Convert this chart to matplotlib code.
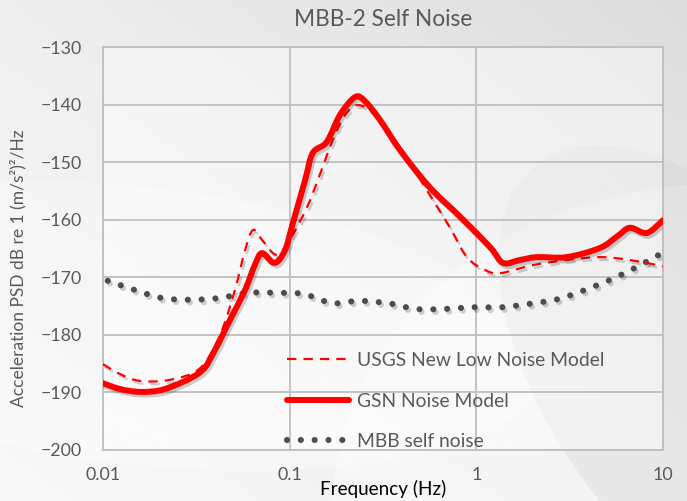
"""MBB-2 self noise vs. Peterson noise models."""

import matplotlib
matplotlib.use("Agg")
from matplotlib import pyplot as plt
from matplotlib import patheffects as pe
from matplotlib.lines import Line2D
from matplotlib.patches import Ellipse, PathPatch
from matplotlib.path import Path
import numpy as np

# --- data ------------------------------------------------------------------
NLNM_FREQ = [0.01, 0.0123, 0.0158, 0.0229, 0.0331, 0.0424, 0.0509, 0.0577,
             0.0636, 0.0711, 0.085, 0.1, 0.124, 0.145, 0.17, 0.198, 0.232,
             0.286, 0.39, 0.586, 0.723, 0.89, 1.11, 1.34, 2.0, 3.05, 4.6,
             6.65, 10.0]
NLNM_DB = [-185.1, -186.8, -188.0, -187.8, -185.8, -180.0, -172.2, -165.3,
           -161.8, -163.5, -166.1, -163.5, -157.8, -152.2, -146.2, -141.8,
           -140.1, -141.8, -147.5, -156.6, -161.4, -166.5, -168.7, -169.3,
           -167.9, -167.0, -166.5, -167.0, -168.1]

GSN_FREQ = [0.01, 0.0123, 0.0158, 0.0215, 0.0331, 0.0398, 0.0479, 0.0577,
            0.065, 0.0711, 0.083, 0.0944, 0.104, 0.121, 0.133, 0.158, 0.186,
            0.224, 0.253, 0.305, 0.39, 0.56, 0.82, 1.18, 1.39, 1.71, 2.11,
            3.05, 4.6, 5.73, 6.65, 8.2, 10.0]
GSN_DB = [-188.4, -189.4, -189.9, -189.4, -186.5, -182.6, -177.4, -172.2,
          -167.9, -165.8, -167.5, -165.3, -160.6, -153.1, -148.4, -146.5,
          -141.8, -138.7, -139.4, -142.7, -147.9, -154.3, -159.5, -164.7,
          -167.5, -167.0, -166.5, -166.5, -164.9, -162.8, -161.4, -162.3,
          -160.1]

MBB_FREQ = [0.0106, 0.0148, 0.0207, 0.0296, 0.0418, 0.0598, 0.0845, 0.119,
            0.169, 0.232, 0.336, 0.475, 0.67, 0.96, 1.37, 1.94, 2.73, 3.82,
            5.33, 7.24, 9.87]
MBB_DB = [-170.6, -172.2, -173.6, -173.9, -173.6, -172.7, -172.7, -172.9,
          -174.5, -174.1, -174.5, -175.5, -175.5, -175.2, -175.2, -174.6,
          -173.8, -172.2, -170.3, -168.2, -165.8]

X_TICKS = [0.01, 0.1, 1, 10]
X_TICK_LABELS = ["0.01", "0.1", "1", "10"]
Y_TICKS = list(range(-200, -129, 10))

TEXT_GRAY = "#595959"
GRID_GRAY = "#bfbfbf"
RED = "#ff0000"
DOT_GRAY = "#4d4d4d"


def smooth_path(freq, db):
    """Excel-style smoothed line: Catmull-Rom through the points, drawn as Beziers in log-x space."""
    x = np.log10(freq)
    y = np.asarray(db, dtype=float)
    n = len(x)
    verts = [(x[0], y[0])]
    codes = [Path.MOVETO]
    for i in range(n - 1):
        a = max(i - 1, 0)
        d = min(i + 2, n - 1)
        c1 = (x[i] + (x[i + 1] - x[a]) / 6, y[i] + (y[i + 1] - y[a]) / 6)
        c2 = (x[i + 1] - (x[d] - x[i]) / 6, y[i + 1] - (y[d] - y[i]) / 6)
        verts += [c1, c2, (x[i + 1], y[i + 1])]
        codes += [Path.CURVE4] * 3
    verts = np.array(verts)
    verts[:, 0] = 10 ** verts[:, 0]
    return Path(verts, codes)


plt.rcParams.update({
    "font.family": ["Lato", "DejaVu Sans"],
    "text.color": TEXT_GRAY,
    "xtick.color": TEXT_GRAY,
    "ytick.color": TEXT_GRAY,
})

fig = plt.figure(figsize=(6.87, 5.01), dpi=100)

# background gradient with soft swooshes, roughly like the Excel style
bg = fig.add_axes([0, 0, 1, 1])
bg.set_xlim(0, 1)
bg.set_ylim(0, 1)
gx, gy = np.meshgrid(np.linspace(0, 1, 200), np.linspace(0, 1, 200))
shade = 0.97 - 0.11 * np.clip((gx + (1 - gy)) / 2, 0, 1) ** 1.5
bg.imshow(shade, cmap="gray", vmin=0, vmax=1, extent=[0, 1, 0, 1],
          origin="upper", aspect="auto")
bg.add_patch(Ellipse((1.15, -0.15), 1.3, 1.6, angle=20,
                     color="white", alpha=0.35, lw=0))
bg.add_patch(Ellipse((0.2, 0.35), 1.2, 0.55, angle=-10,
                     color="white", alpha=0.25, lw=0))
bg.add_patch(Ellipse((1.05, 0.2), 0.5, 1.1, angle=25,
                     color="#c8c8c8", alpha=0.25, lw=0))
bg.axis("off")

ax = fig.add_axes([103 / 687, 1 - 450 / 501, 560 / 687, 403 / 501])
ax.set_facecolor("white")
ax.patch.set_alpha(0.45)

shadow = [pe.SimpleLineShadow(offset=(1.5, -2), alpha=0.18, shadow_color="black"),
          pe.Normal()]

ax.add_patch(PathPatch(smooth_path(MBB_FREQ, MBB_DB), fill=False,
                       edgecolor=DOT_GRAY, lw=4.4, linestyle=(0, (0.01, 2.25)),
                       capstyle="round", path_effects=shadow, zorder=2))
ax.add_patch(PathPatch(smooth_path(NLNM_FREQ, NLNM_DB), fill=False,
                       edgecolor=RED, lw=1.6, linestyle=(0, (4.2, 3.2)),
                       path_effects=shadow, zorder=3))
ax.add_patch(PathPatch(smooth_path(GSN_FREQ, GSN_DB), fill=False,
                       edgecolor=RED, lw=4.3, capstyle="round",
                       joinstyle="round", path_effects=shadow, zorder=4))

ax.set_xscale("log")
ax.set_xlim(0.01, 10)
ax.set_ylim(-200, -130)
ax.set_xticks(X_TICKS)
ax.set_xticklabels(X_TICK_LABELS)
ax.set_xticks([], minor=True)
ax.set_yticks(Y_TICKS)
ax.tick_params(length=0, labelsize=12.8, pad=12)
ax.tick_params(axis="y", pad=15)
ax.grid(True, color=GRID_GRAY, lw=1.3)
for s in ax.spines.values():
    s.set_color(GRID_GRAY)
    s.set_linewidth(1.3)

fig.text(383 / 687, 1 - 19 / 501, "MBB-2 Self Noise", ha="center",
         va="center", fontsize=16.3)
ax.set_xlabel("Frequency (Hz)", fontsize=13.6, labelpad=-2)
fig.text(18 / 687, 1 - 268 / 501, "Acceleration PSD dB re 1 (m/s²)²/Hz",
         rotation=90, ha="center", va="center", fontsize=12.5)

handles = [
    Line2D([], [], color=RED, lw=1.6, dashes=(4.2, 3.2)),
    Line2D([], [], color=RED, lw=4.3, solid_capstyle="round"),
    Line2D([], [], color=DOT_GRAY, lw=4.4, dashes=(0.01, 2.25), dash_capstyle="round"),
]
labels = ["USGS New Low Noise Model", "GSN Noise Model", "MBB self noise"]
leg = ax.legend(handles, labels, loc="upper left", bbox_to_anchor=(0.315, 0.262),
                frameon=False, fontsize=13.9, handlelength=3.2,
                handletextpad=0.4, labelspacing=1.22, borderaxespad=0)
for t in leg.get_texts():
    t.set_color(TEXT_GRAY)

fig.savefig("out.png", dpi=100)
